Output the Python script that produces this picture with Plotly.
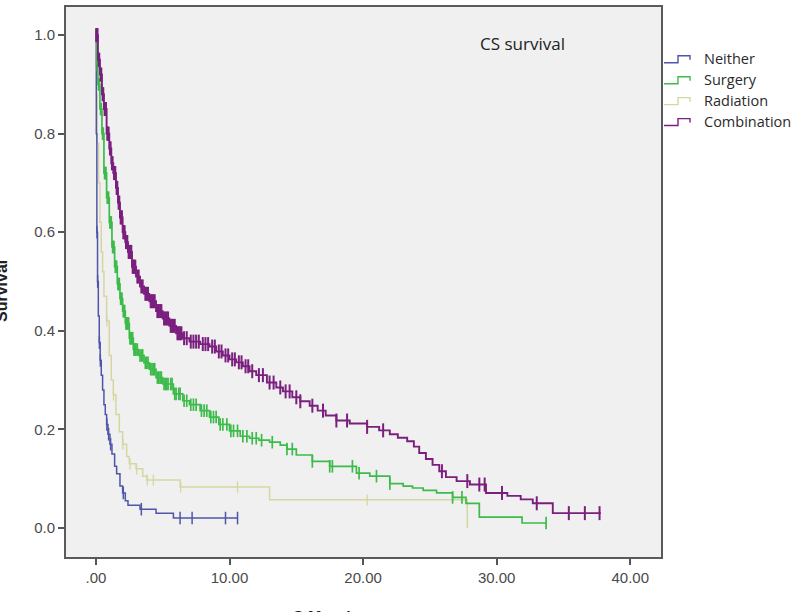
import numpy as np
import plotly.graph_objects as go

# ---------------- data ----------------
groups = ["Neither", "Surgery", "Radiation", "Combination"]
colors = ["#4f55aa", "#3dbb4a", "#d6d6a2", "#7b1f7f"]

neither_t = [0, 0.03, 0.07, 0.12, 0.18, 0.25, 0.32, 0.4, 0.5, 0.6, 0.7, 0.8, 0.9, 1.05, 1.2, 1.4,
             1.55, 1.8, 2.0, 2.2, 2.4, 3.3, 4.5, 5.8, 10.6]
neither_s = [1.0, 0.8, 0.6, 0.5, 0.43, 0.376, 0.34, 0.31, 0.28, 0.25, 0.23, 0.21, 0.19, 0.17, 0.15, 0.125,
             0.11, 0.085, 0.071, 0.055, 0.046, 0.038, 0.03, 0.02, 0.02]
neither_cens = [0.08, 0.13, 0.26, 0.33, 0.82, 0.95, 1.1, 2.05, 3.4, 6.3, 7.2, 9.7, 10.6]

surgery_t = [0, 0.05, 0.15, 0.3, 0.45, 0.6, 0.8, 1.0, 1.2, 1.4, 1.6, 1.8, 2.0, 2.2, 2.5, 2.8, 3.2, 3.6,
             4.0, 4.5, 5.0, 5.8, 6.5, 7.0, 7.8, 8.5, 9.2, 10.0, 10.8, 11.5, 12.2, 13.0, 13.8, 14.3, 15.0,
             16.2, 17.5, 19.5, 20.5, 22.0, 23.0, 23.7, 24.5, 25.5, 26.7, 27.7, 28.7, 31.9, 33.7]
surgery_s = [1.0, 0.94, 0.90, 0.85, 0.80, 0.72, 0.67, 0.62, 0.57, 0.53, 0.495, 0.465, 0.44, 0.415, 0.385,
             0.362, 0.35, 0.335, 0.322, 0.305, 0.292, 0.272, 0.258, 0.25, 0.238, 0.225, 0.21, 0.197, 0.186,
             0.182, 0.178, 0.174, 0.168, 0.16, 0.148, 0.135, 0.125, 0.111, 0.105, 0.09, 0.085, 0.081, 0.076,
             0.071, 0.062, 0.05, 0.022, 0.01, 0.01]
surgery_cens = [0.02, 0.1, 0.2, 0.25, 0.35, 0.4, 0.5, 0.55, 0.65, 0.7, 0.75, 0.85, 0.9, 0.95, 1.05, 1.1,
                1.15, 1.25, 1.3, 1.35, 1.45, 1.5, 1.55, 1.65, 1.7, 1.75, 1.85, 1.9, 1.95, 2.05, 2.1, 2.15,
                2.25, 2.3, 2.35, 2.4, 2.45, 2.55, 2.6, 2.65, 2.7, 2.75, 2.85, 2.9, 2.95, 3.0, 3.1, 3.3, 3.4,
                3.5, 3.7, 3.8, 3.9, 4.1, 4.2, 4.3, 4.4, 4.6, 4.7, 4.8, 4.9, 5.1, 5.2, 5.3, 5.4, 5.6, 5.7,
                5.9, 6.0, 6.2, 6.3, 6.6, 6.8, 7.1, 7.3, 7.5, 7.9, 8.1, 8.3, 8.6, 8.8, 9.0, 9.3, 9.5, 9.8,
                10.1, 10.3, 10.6, 11.0, 11.3, 11.7, 12.0, 12.4, 13.2, 14.3, 14.7, 16.2, 17.5, 17.7, 19.2,
                19.7, 21.0, 22.0, 26.7, 27.4, 33.7]

radiation_t = [0, 0.05, 0.1, 0.2, 0.3, 0.4, 0.5, 0.6, 0.8, 1.0, 1.15, 1.3, 1.5, 1.75, 2.0, 2.3, 2.5,
               3.0, 3.5, 3.8, 6.3, 13.0, 27.8]
radiation_s = [1.0, 0.88, 0.78, 0.70, 0.62, 0.56, 0.52, 0.47, 0.42, 0.35, 0.30, 0.27, 0.23, 0.195, 0.17,
               0.145, 0.13, 0.12, 0.105, 0.097, 0.083, 0.057, 0.0]
radiation_cens = [0.82, 1.32, 2.02, 2.55, 3.05, 3.85, 4.3, 6.35, 10.6, 20.3]

combination_t = [0, 0.15, 0.3, 0.45, 0.6, 0.8, 1.0, 1.15, 1.3, 1.5, 1.65, 1.8, 2.0, 2.2, 2.4, 2.7, 3.0,
                 3.3, 3.6, 4.0, 4.5, 5.0, 5.5, 6.0, 6.5, 7.0, 7.8, 8.5, 9.0, 9.5, 10.0, 10.5, 11.0, 11.5,
                 12.0, 12.8, 13.5, 14.0, 14.7, 15.3, 16.0, 16.6, 17.2, 18.0, 19.0, 20.3, 21.2, 22.0, 22.6,
                 23.3, 23.8, 24.2, 24.7, 25.2, 25.7, 26.2, 27.0, 28.0, 29.2, 30.8, 31.8, 32.7, 34.2, 37.8]
combination_s = [1.0, 0.95, 0.92, 0.88, 0.85, 0.80, 0.77, 0.74, 0.72, 0.69, 0.66, 0.63, 0.60, 0.58, 0.56,
                 0.53, 0.51, 0.49, 0.475, 0.46, 0.44, 0.425, 0.41, 0.395, 0.385, 0.378, 0.373, 0.368, 0.358,
                 0.35, 0.342, 0.336, 0.328, 0.318, 0.31, 0.295, 0.285, 0.277, 0.265, 0.257, 0.248, 0.238,
                 0.228, 0.218, 0.212, 0.205, 0.198, 0.19, 0.183, 0.176, 0.165, 0.152, 0.14, 0.128, 0.115,
                 0.103, 0.095, 0.088, 0.071, 0.065, 0.058, 0.05, 0.03, 0.03]
combination_cens = [0.02, 0.08, 0.12, 0.2, 0.25, 0.35, 0.4, 0.5, 0.55, 0.65, 0.7, 0.75, 0.85, 0.9, 0.95,
                    1.05, 1.1, 1.2, 1.25, 1.35, 1.4, 1.45, 1.55, 1.6, 1.7, 1.75, 1.85, 1.9, 1.95, 2.05,
                    2.1, 2.15, 2.25, 2.3, 2.35, 2.45, 2.5, 2.55, 2.6, 2.65, 2.75, 2.8, 2.85, 2.9, 2.95,
                    3.1, 3.2, 3.4, 3.5, 3.7, 3.8, 3.9, 4.1, 4.2, 4.3, 4.4, 4.6, 4.7, 4.8, 4.9, 5.1, 5.2,
                    5.3, 5.4, 5.6, 5.7, 5.8, 5.9, 6.1, 6.2, 6.3, 6.4, 6.6, 6.8, 7.1, 7.3, 7.5, 7.7, 8.0,
                    8.2, 8.4, 8.7, 8.9, 9.2, 9.4, 9.7, 9.9, 10.2, 10.4, 10.7, 10.9, 11.2, 11.4, 11.7,
                    12.2, 12.5, 13.0, 13.3, 13.8, 14.2, 14.5, 15.0, 15.3, 16.2, 17.0, 18.0, 18.8, 20.3,
                    21.5, 25.9, 27.8, 28.7, 29.1, 30.4, 33.0, 35.4, 36.6, 37.7]

x_tickvals = [0, 10, 20, 30, 40]
x_ticktext = [".00", "10.00", "20.00", "30.00", "40.00"]
y_tickvals = [0.0, 0.2, 0.4, 0.6, 0.8, 1.0]
y_ticktext = ["0.0", "0.2", "0.4", "0.6", "0.8", "1.0"]

title_text = "CS survival"
y_title = "Survival"
x_title = "S Months"

series = [
    (neither_t, neither_s, neither_cens),
    (surgery_t, surgery_s, surgery_cens),
    (radiation_t, radiation_s, radiation_cens),
    (combination_t, combination_s, combination_cens),
]
widths = [1.5, 1.7, 1.5, 1.9]
msizes = [9, 9, 8, 10]
mwidths = [1.5, 1.7, 1.3, 2.0]

# ---------------- figure ----------------
fig = go.Figure()


def step_value(t_arr, s_arr, tq):
    t_arr = np.asarray(t_arr, dtype=float)
    s_arr = np.asarray(s_arr, dtype=float)
    idx = np.searchsorted(t_arr, np.asarray(tq, dtype=float), side="right") - 1
    idx = np.clip(idx, 0, len(s_arr) - 1)
    return s_arr[idx]


order = [2, 0, 1, 3]
for i in order:
    t, s, c = series[i]
    fig.add_trace(go.Scatter(x=t, y=s, mode="lines", line=dict(color=colors[i], width=widths[i], shape="hv"),
                             name=groups[i], showlegend=False, hoverinfo="skip"))
    fig.add_trace(go.Scatter(x=c, y=step_value(t, s, c), mode="markers",
                             marker=dict(symbol="line-ns", size=msizes[i],
                                         line=dict(color=colors[i], width=mwidths[i])),
                             showlegend=False, hoverinfo="skip"))

# Plot area in pixels: left 66, right 661, top 5, bottom 557
L, R, T, B = 66, 661, 5, 557
W, H = 800, 612
pw, ph = R - L, B - T


def px_x(x):
    return (x - L) / pw


def px_y(y):
    return (B - y) / ph


legend_rows = [57, 78, 99, 120]
shapes = []
annotations = []
for i, yc in enumerate(legend_rows):
    lo, hi = yc + 4, yc - 3
    path = "M {x0},{y0} L {x1},{y0} L {x1},{y1} L {x2},{y1} L {x2},{y3}".format(
        x0=px_x(664), x1=px_x(678), x2=px_x(690), y0=px_y(lo), y1=px_y(hi), y3=px_y(hi + 4))
    shapes.append(dict(type="path", path=path, xref="paper", yref="paper",
                       line=dict(color=colors[i], width=1.4)))
    annotations.append(dict(text=groups[i], x=px_x(702), y=px_y(yc), xref="paper", yref="paper",
                            xanchor="left", yanchor="middle", showarrow=False,
                            font=dict(family="Open Sans", size=14.5, color="#2a2a2a")))

annotations.append(dict(text=title_text, x=px_x(522), y=px_y(42), xref="paper", yref="paper",
                        xanchor="center", yanchor="middle", showarrow=False,
                        font=dict(family="Open Sans", size=17, color="#222222")))
annotations.append(dict(text="<b>" + y_title + "</b>", x=px_x(2), y=px_y(290), xref="paper", yref="paper",
                        xanchor="center", yanchor="middle", textangle=-90, showarrow=False,
                        font=dict(family="Liberation Sans", size=16, color="#222222")))
annotations.append(dict(text="<b>" + x_title + "</b>", x=px_x(291), y=px_y(618), xref="paper", yref="paper",
                        xanchor="left", yanchor="middle", showarrow=False,
                        font=dict(family="Liberation Sans", size=16, color="#222222")))

fig.update_layout(
    width=W, height=H,
    margin=dict(l=L, r=W - R, t=T, b=H - B),
    paper_bgcolor="white",
    plot_bgcolor="#f0f0f0",
    shapes=shapes,
    annotations=annotations,
    showlegend=False,
)
tickfont = dict(family="Liberation Sans", size=15, color="#4a4a4a")
fig.update_xaxes(range=[-2.24, 42.3], tickvals=x_tickvals, ticktext=x_ticktext,
                 showgrid=False, zeroline=False, ticks="outside", ticklen=6, tickwidth=1.5,
                 tickcolor="#555555", showline=True, linecolor="#5a5a5a", linewidth=2, mirror=True,
                 tickfont=tickfont)
fig.update_yaxes(range=[-0.059, 1.057], tickvals=y_tickvals, ticktext=y_ticktext,
                 showgrid=False, zeroline=False, ticks="outside", ticklen=6, tickwidth=1.5,
                 tickcolor="#555555", showline=True, linecolor="#5a5a5a", linewidth=2, mirror=True,
                 tickfont=tickfont)

fig.write_html("out.html", config={"displayModeBar": False},
               post_script="document.body.style.margin='0px';document.body.style.overflow='hidden';")
